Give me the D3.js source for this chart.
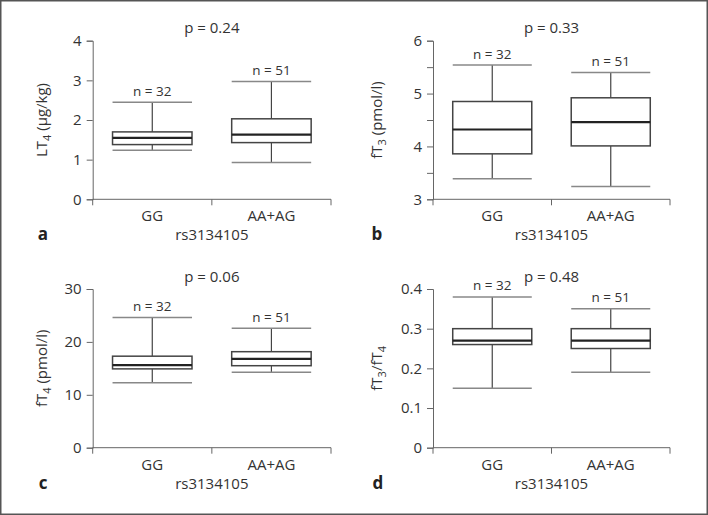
<!DOCTYPE html>
<html><head><meta charset="utf-8">
<script src="https://cdn.jsdelivr.net/npm/d3@7"></script>
<style>
html,body{margin:0;padding:0;background:#fff;}
svg{display:block;font-family:"Open Sans","Noto Sans",sans-serif;}
</style></head>
<body>
<svg id="chart" width="708" height="515"></svg>
<script>
const categories = ["GG", "AA+AG"];
const nLabels = ["n = 32", "n = 51"];
const xTitle = "rs3134105";
// box stats per category: [low whisker, Q1, median, Q3, high whisker]
const boxLT4 = [[1.24, 1.38, 1.55, 1.70, 2.45], [0.93, 1.43, 1.63, 2.03, 2.97]];
const boxFT3 = [[3.39, 3.86, 4.32, 4.85, 5.54], [3.24, 4.01, 4.46, 4.92, 5.40]];
const boxFT4 = [[12.3, 14.9, 15.6, 17.3, 24.6], [14.25, 15.5, 16.8, 18.15, 22.6]];
const boxRatio = [[0.15, 0.26, 0.27, 0.30, 0.38], [0.19, 0.25, 0.27, 0.30, 0.35]];
const ticksLT4 = [0, 1, 2, 3, 4];
const ticksFT3 = [3, 4, 5, 6];
const minorFT3 = [3.5, 4.5, 5.5];
const ticksFT4 = [0, 10, 20, 30];
const ticksRatio = [0, 0.1, 0.2, 0.3, 0.4];
const pValues = ["p = 0.24", "p = 0.33", "p = 0.06", "p = 0.48"];
const panelLetters = ["a", "b", "c", "d"];

const panels = [
  {box: boxLT4, ticks: ticksLT4, minor: [], domain: [0, 4], fmt: d3.format("d"),
   title: [["LT", 0], ["4", 1], [" (µg/kg)", 0]], p: pValues[0], letter: panelLetters[0],
   x0: 92.7, x1: 331, yb: 199.3, yt: 40.7, titleX: 47, letterX: 43},
  {box: boxFT3, ticks: ticksFT3, minor: minorFT3, domain: [3, 6], fmt: d3.format("d"),
   title: [["fT", 0], ["3", 1], [" (pmol/l)", 0]], p: pValues[1], letter: panelLetters[1],
   x0: 433, x1: 670, yb: 199.3, yt: 40.7, titleX: 382, letterX: 377},
  {box: boxFT4, ticks: ticksFT4, minor: [], domain: [0, 30], fmt: d3.format("d"),
   title: [["fT", 0], ["4", 1], [" (pmol/l)", 0]], p: pValues[2], letter: panelLetters[2],
   x0: 92.7, x1: 331, yb: 447.7, yt: 289, titleX: 47, letterX: 43},
  {box: boxRatio, ticks: ticksRatio, minor: [], domain: [0, 0.4], fmt: d => d === 0 ? "0" : d3.format(".1f")(d),
   title: [["fT", 0], ["3", 1], ["/fT", 0], ["4", 1]], p: pValues[3], letter: panelLetters[3],
   x0: 433, x1: 670, yb: 447.7, yt: 289, titleX: 382, letterX: 378}
];

const svg = d3.select("#chart");
svg.append("rect").attr("x", 0.75).attr("y", 0.75).attr("width", 706.5).attr("height", 513.5)
  .attr("fill", "#fff").attr("stroke", "#555").attr("stroke-width", 1.5);

const axisColor = "#666";
const textColor = "#333";

panels.forEach((P, i) => {
  const g = svg.append("g");
  const x = d3.scaleBand().domain(categories).range([P.x0, P.x1]).paddingInner(0).paddingOuter(0);
  const y = d3.scaleLinear().domain(P.domain).range([P.yb, P.yt]);

  // y axis
  const yAx = g.append("g").attr("transform", `translate(${P.x0},0)`)
    .call(d3.axisLeft(y).tickValues(P.ticks).tickFormat(P.fmt).tickSizeOuter(0).tickSize(6).tickPadding(5));
  yAx.select(".domain").attr("stroke", axisColor);
  yAx.selectAll(".tick line").attr("stroke", axisColor);
  yAx.selectAll(".tick text").attr("fill", textColor).style("font-size", "15px")
    .style("font-family", '"Open Sans","Noto Sans",sans-serif');
  if (P.minor.length) {
    g.append("g").attr("transform", `translate(${P.x0},0)`)
      .call(d3.axisLeft(y).tickValues(P.minor).tickFormat("").tickSize(6).tickSizeOuter(0))
      .call(s => { s.select(".domain").remove(); s.selectAll("line").attr("stroke", axisColor); });
  }

  // x axis (ticks at band edges)
  const edges = [P.x0, ...categories.map(c => x(c) + x.bandwidth())];
  const xAx = g.append("g").attr("transform", `translate(0,${P.yb})`);
  xAx.append("line").attr("x1", P.x0).attr("x2", P.x1).attr("stroke", axisColor);
  xAx.selectAll("line.tk").data(edges).join("line").attr("class", "tk")
    .attr("x1", d => d).attr("x2", d => d).attr("y1", 0).attr("y2", 6).attr("stroke", axisColor);
  xAx.selectAll("text").data(categories).join("text")
    .attr("x", d => x(d) + x.bandwidth() / 2).attr("y", 22)
    .attr("text-anchor", "middle").attr("fill", textColor).style("font-size", "15px").text(d => d);

  // x title
  g.append("text").attr("x", (P.x0 + P.x1) / 2).attr("y", P.yb + 41)
    .attr("text-anchor", "middle").attr("fill", textColor).style("font-size", "15px").text(xTitle);
  // panel letter
  g.append("text").attr("x", P.letterX).attr("y", P.yb + 41)
    .attr("text-anchor", "middle").attr("fill", "#222").style("font-size", "17px")
    .style("font-weight", "bold").text(P.letter);
  // p value
  g.append("text").attr("x", (P.x0 + P.x1) / 2).attr("y", P.yt - 7.5)
    .attr("text-anchor", "middle").attr("fill", textColor).style("font-size", "15px").text(P.p);

  // y title
  const yt = g.append("text")
    .attr("transform", `translate(${P.titleX},${(P.yb + P.yt) / 2}) rotate(-90)`)
    .attr("text-anchor", "middle").attr("dy", "0.35em").attr("fill", textColor).style("font-size", "15px");
  P.title.forEach(([s, sub]) => {
    yt.append("tspan").text(s)
      .style("font-size", sub ? "11px" : "15px")
      .attr("dy", sub ? 4 : 0)
      .attr("baseline-shift", null);
  });
  // reset baseline after subscript: use explicit dy sequence
  yt.selectAll("tspan").each(function(d, k) {
    const prevSub = k > 0 && P.title[k - 1][1];
    const sub = P.title[k][1];
    let dy = 0;
    if (sub && !prevSub) dy = 4;
    if (!sub && prevSub) dy = -4;
    d3.select(this).attr("dy", dy);
  });

  // boxes
  const bw = x.bandwidth() * 0.667;
  categories.forEach((c, j) => {
    const [lo, q1, med, q3, hi] = P.box[j];
    const cx = x(c) + x.bandwidth() / 2;
    const bg = g.append("g");
    bg.append("line").attr("x1", cx).attr("x2", cx).attr("y1", y(hi)).attr("y2", y(q3))
      .attr("stroke", "#444").attr("stroke-width", 1.2);
    bg.append("line").attr("x1", cx).attr("x2", cx).attr("y1", y(q1)).attr("y2", y(lo))
      .attr("stroke", "#444").attr("stroke-width", 1.2);
    [hi, lo].forEach(v => {
      bg.append("line").attr("x1", cx - bw / 2).attr("x2", cx + bw / 2).attr("y1", y(v)).attr("y2", y(v))
        .attr("stroke", "#888").attr("stroke-width", 1.5);
    });
    bg.append("rect").attr("x", cx - bw / 2).attr("y", y(q3)).attr("width", bw).attr("height", y(q1) - y(q3))
      .attr("fill", "#fff").attr("stroke", "#444").attr("stroke-width", 1.5);
    bg.append("line").attr("x1", cx - bw / 2).attr("x2", cx + bw / 2).attr("y1", y(med)).attr("y2", y(med))
      .attr("stroke", "#222").attr("stroke-width", 2.2);
    bg.append("text").attr("x", cx).attr("y", y(hi) - 6.5).attr("text-anchor", "middle")
      .attr("fill", textColor).style("font-size", "13.5px").text(nLabels[j]);
  });
});
</script>
</body></html>
